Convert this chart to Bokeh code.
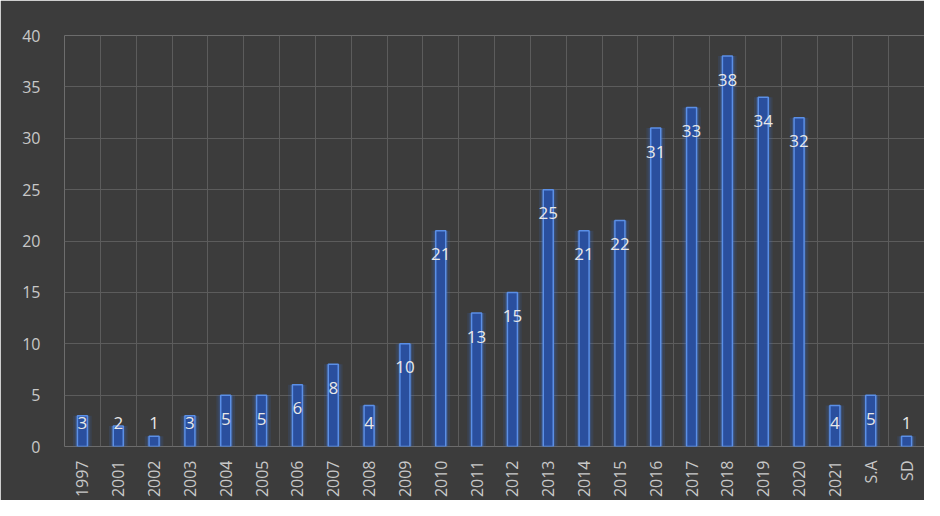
import numpy as np
from bokeh.plotting import figure
from bokeh.models import ColumnDataSource, Range1d, FixedTicker
from bokeh.core.properties import value
from bokeh.embed import file_html
from bokeh.resources import INLINE

categories = ["1997", "2001", "2002", "2003", "2004", "2005", "2006", "2007", "2008",
              "2009", "2010", "2011", "2012", "2013", "2014", "2015", "2016", "2017",
              "2018", "2019", "2020", "2021", "S.A", "SD"]
counts = [3, 2, 1, 3, 5, 5, 6, 8, 4, 10, 21, 13, 15, 25, 21, 22, 31, 33, 38, 34, 32, 4, 5, 1]
y_ticks = [0, 5, 10, 15, 20, 25, 30, 35, 40]

n = len(categories)
xs = np.arange(n)
label_y = [max(v - 2.3, 2.3) for v in counts]
src = ColumnDataSource(dict(x=xs, top=counts, label=[str(v) for v in counts], ly=label_y))

BG = "#3c3c3c"
p = figure(width=924, height=500, output_backend="svg", toolbar_location=None,
           x_range=Range1d(-0.5, n - 0.5), y_range=Range1d(0, 40),
           background_fill_color=BG, border_fill_color=BG,
           min_border_left=64, min_border_right=0, min_border_top=35, min_border_bottom=53)
p.outline_line_color = None

# glow
p.vbar(x="x", top="top", width=0.52, bottom=0, source=src,
       fill_color="#3a6fd8", fill_alpha=0.14, line_color=None)
p.vbar(x="x", top="top", width=0.40, bottom=0, source=src,
       fill_color="#3a6fd8", fill_alpha=0.25, line_color=None)
# bar
p.vbar(x="x", top="top", width=0.28, bottom=0, source=src,
       fill_color="#2a4f9e", line_color="#5b8fe6", line_width=1.5)

p.text(x="x", y="ly", text="label", source=src, text_align="center",
       text_baseline="middle", text_color="#e8e8e8", text_font_size="17px",
       text_font=value("Open Sans"))

# y axis
p.yaxis.ticker = FixedTicker(ticks=y_ticks)
p.yaxis.axis_line_color = None
p.yaxis.major_tick_line_color = None
p.yaxis.minor_tick_line_color = None
p.yaxis.major_label_text_color = "#c8c8c8"
p.yaxis.major_label_text_font_size = "16px"
p.yaxis.major_label_text_font = "Open Sans"
p.yaxis.major_label_standoff = 18

# x axis
p.xaxis.ticker = FixedTicker(ticks=list(xs))
p.xaxis.major_label_overrides = {int(i): c for i, c in zip(xs, categories)}
p.xaxis.major_label_orientation = np.pi / 2
p.xaxis.axis_line_color = None
p.xaxis.major_tick_line_color = None
p.xaxis.minor_tick_line_color = None
p.xaxis.major_label_text_color = "#c8c8c8"
p.xaxis.major_label_text_font_size = "16px"
p.xaxis.major_label_text_font = "Open Sans"
p.xaxis.major_label_standoff = 8

p.ygrid.grid_line_color = "#5c5c5c"
p.ygrid.grid_line_width = 1
p.xgrid.ticker = FixedTicker(ticks=[i - 0.5 for i in range(n + 1)])
p.xgrid.grid_line_color = "#5c5c5c"
p.xgrid.grid_line_width = 1

open("out.html", "w").write(file_html(p, INLINE))
